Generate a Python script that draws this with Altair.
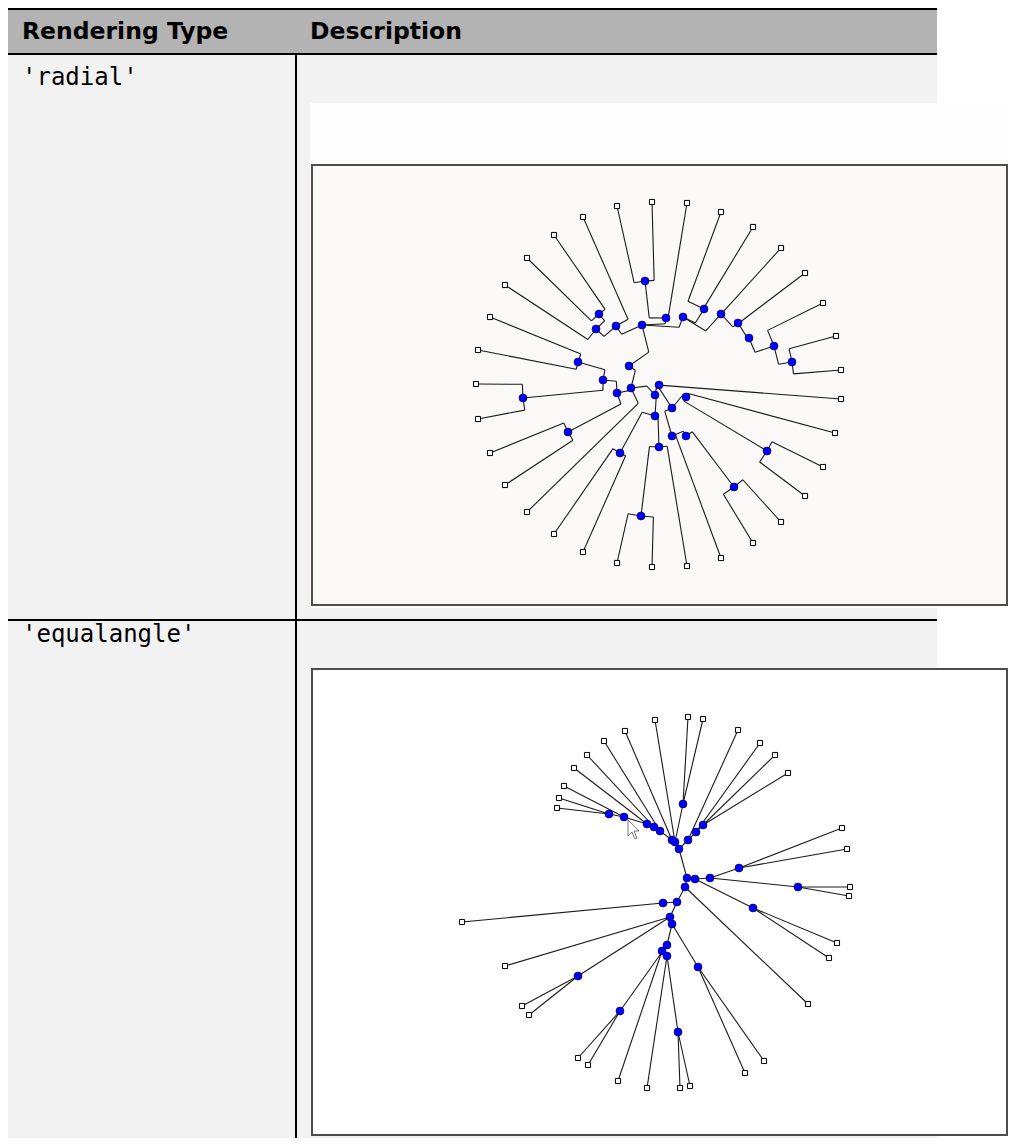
import math
import altair as alt
import pandas as pd

# ---------------- table text ----------------
HEADER_LABELS = ["Rendering Type", "Description"]
ROW_LABELS = ["'radial'", "'equalangle'"]

# ---------------- 'radial' tree (screen positions) ----------------
RAD_CENTER_X = 657
RAD_CENTER_Y = 385
RAD_LEAF_X = [652, 687, 721, 753, 781, 805, 823, 836, 841, 841, 835, 823, 805, 781, 753, 721, 687,
              652, 617, 583, 554, 527, 505, 490, 478, 476, 478, 490, 505, 527, 554, 583, 617]
RAD_LEAF_Y = [202, 203, 212, 227, 248, 273, 303, 336, 370, 399, 433, 467, 496, 522, 543, 558, 566,
              567, 563, 552, 534, 512, 485, 453, 419, 384, 350, 317, 285, 258, 235, 217, 206]
RAD_LEAF_PARENT = ["A", "I", "K", "K", "L", "M", "O", "P", "P", "X", "Z", "AE", "AE", "AF", "AF", "AB", "AD",
                   "T", "T", "S", "S", "V", "R", "R", "Q", "Q", "G", "G", "C", "B", "B", "D", "A"]
RAD_NODE_NAMES = ["A", "B", "C", "D", "E", "F", "G", "H", "I", "J", "K", "L", "M", "N", "O", "P",
                  "Q", "R", "S", "T", "U", "V", "W", "X", "Y", "Z", "AA", "AB", "AC", "AD", "AE", "AF"]
RAD_NODE_X = [645, 599, 596, 616, 642, 629, 578, 603, 666, 683, 704, 721, 738, 749, 774, 792,
              523, 568, 620, 641, 617, 631, 655, 659, 672, 686, 655, 672, 686, 659, 767, 734]
RAD_NODE_Y = [281, 314, 329, 326, 325, 366, 362, 380, 318, 317, 309, 314, 323, 338, 346, 362,
              398, 432, 453, 516, 393, 388, 395, 385, 408, 397, 416, 436, 436, 447, 451, 487]
RAD_NODE_PARENT = ["I", "C", "D", "E", "F", "V", "H", "U", "E", "E", "J", "J", "L", "M", "N", "O",
                   "H", "U", "AA", "AD", "V", "W", "X", "", "X", "Y", "W", "Y", "AB", "AA", "Z", "AC"]

# ---------------- 'equalangle' tree ----------------
EQ_LEAF_X = [557, 559, 564, 574, 587, 604, 625, 655, 688, 703, 738, 760, 775, 788, 842, 847, 850,
             849, 837, 829, 808, 764, 745, 690, 680, 647, 618, 588, 578, 529, 522, 505, 462]
EQ_LEAF_Y = [808, 798, 786, 768, 755, 741, 731, 720, 717, 719, 730, 743, 755, 773, 828, 849, 887,
             896, 943, 958, 1004, 1061, 1073, 1086, 1088, 1088, 1081, 1065, 1058, 1015, 1006, 966, 922]
EQ_LEAF_PARENT = ["b1", "b1", "b2", "b3", "b4", "b5", "b6", "b7", "b9", "b9", "b10", "b11", "b12", "b12",
                  "b16", "b16", "b17", "b17", "b21", "b21", "b18", "b27", "b27", "b28", "b28", "b26",
                  "b25", "b30", "b30", "b29", "b29", "b22", "b19"]
EQ_NODE_NAMES = ["b%d" % i for i in range(1, 31)]
EQ_NODE_X = [609, 624, 647, 654, 660, 672, 675, 679, 683, 688, 696, 703, 687, 695, 710, 739, 798,
             685, 663, 677, 753, 670, 672, 667, 662, 667, 698, 678, 578, 620]
EQ_NODE_Y = [814, 817, 824, 827, 831, 840, 842, 849, 804, 840, 832, 825, 878, 879, 878, 868, 887,
             887, 903, 902, 908, 917, 924, 945, 951, 956, 967, 1032, 976, 1011]
EQ_NODE_PARENT = ["b2", "b3", "b4", "b5", "b6", "b8", "b8", "b13", "b7", "b8", "b10", "b11", "",
                  "b13", "b14", "b15", "b15", "b13", "b20", "b18", "b14", "b20", "b22", "b23", "b24",
                  "b25", "b23", "b26", "b22", "b24"]

CURSOR_X = [628]
CURSOR_Y = [820]

# ---------------- build tables ----------------
def radial_edges():
    pos = {n: (x, y) for n, x, y in zip(RAD_NODE_NAMES, RAD_NODE_X, RAD_NODE_Y)}
    kids = list(zip(RAD_LEAF_X, RAD_LEAF_Y, RAD_LEAF_PARENT)) + \
        [(x, y, p) for x, y, p in zip(RAD_NODE_X, RAD_NODE_Y, RAD_NODE_PARENT) if p]
    rows = []
    for cx, cy, p in kids:
        px, py = pos[p]
        rp = math.hypot(px - RAD_CENTER_X, py - RAD_CENTER_Y)
        dx, dy = cx - RAD_CENTER_X, cy - RAD_CENTER_Y
        rc = math.hypot(dx, dy)
        ex, ey = RAD_CENTER_X + dx / rc * rp, RAD_CENTER_Y + dy / rc * rp
        rows.append({"x": cx, "y": cy, "x2": ex, "y2": ey})
        rows.append({"x": ex, "y": ey, "x2": px, "y2": py})
    return pd.DataFrame(rows)


def straight_edges():
    pos = {n: (x, y) for n, x, y in zip(EQ_NODE_NAMES, EQ_NODE_X, EQ_NODE_Y)}
    kids = list(zip(EQ_LEAF_X, EQ_LEAF_Y, EQ_LEAF_PARENT)) + \
        [(x, y, p) for x, y, p in zip(EQ_NODE_X, EQ_NODE_Y, EQ_NODE_PARENT) if p]
    rows = []
    for cx, cy, p in kids:
        px, py = pos[p]
        rows.append({"x": cx, "y": cy, "x2": px, "y2": py})
    return pd.DataFrame(rows)


W, H = 1001, 1130
X0, Y0 = 8, 8
xsc = alt.Scale(domain=[X0, X0 + W], range=[0, W], nice=False, zero=False)
ysc = alt.Scale(domain=[Y0, Y0 + H], range=[0, H], nice=False, zero=False)
one = pd.DataFrame({"k": [0]})


def rect(x1, y1, x2, y2, fill, stroke=None, sw=0):
    kw = {"fill": fill}
    if stroke:
        kw.update(stroke=stroke, strokeWidth=sw)
    else:
        kw.update(strokeWidth=0)
    return alt.Chart(one).mark_rect(**kw).encode(
        x=alt.value(x1 - X0), x2=alt.value(x2 - X0),
        y=alt.value(y1 - Y0), y2=alt.value(y2 - Y0))


def label(txt, x, y, font, size, weight="normal"):
    return alt.Chart(pd.DataFrame({"label": [txt]})).mark_text(
        align="left", baseline="alphabetic", font=font, fontSize=size,
        fontWeight=weight, color="#000000").encode(
        x=alt.value(x - X0), y=alt.value(y - Y0), text="label:N")


layers = [
    # table cells
    rect(0, 8, 937, 55, "#b3b3b3"),
    rect(0, 55, 295, 1148, "#f2f2f2"),
    rect(297, 55, 937, 1148, "#f2f2f2"),
    rect(310, 103, 1017, 608, "#fdfdfd"),
    # table rules
    rect(0, 8, 937, 10, "#000000"),
    rect(0, 53, 937, 55, "#000000"),
    rect(0, 619, 937, 621, "#000000"),
    rect(295, 55, 297, 1148, "#000000"),
    # screenshot frames
    rect(312, 165, 1007, 605, "#faf9f7", "#4d4d4d", 2),
    rect(312, 669, 1007, 1135, "#ffffff", "#4d4d4d", 2),
    # texts
    label(HEADER_LABELS[0], 22, 39, "DejaVu Sans", 23.5, "bold"),
    label(HEADER_LABELS[1], 310, 39, "DejaVu Sans", 23.5, "bold"),
    label(ROW_LABELS[0], 22, 85, "DejaVu Sans Mono", 24),
    label(ROW_LABELS[1], 22, 642, "DejaVu Sans Mono", 24),
]

enc_xy = dict(x=alt.X("x:Q", scale=xsc, axis=None), y=alt.Y("y:Q", scale=ysc, axis=None))

for edges in (radial_edges(), straight_edges()):
    layers.append(alt.Chart(edges).mark_rule(color="#1a1a1a", strokeWidth=1.1).encode(
        x2="x2:Q", y2="y2:Q", **enc_xy))

leaves = pd.DataFrame({"x": RAD_LEAF_X + EQ_LEAF_X, "y": RAD_LEAF_Y + EQ_LEAF_Y})
nodes = pd.DataFrame({"x": RAD_NODE_X + EQ_NODE_X, "y": RAD_NODE_Y + EQ_NODE_Y})

layers.append(alt.Chart(leaves).mark_point(
    shape="square", filled=True, fill="#ffffff", stroke="#000000", strokeWidth=1, size=26, opacity=1
).encode(**enc_xy))
layers.append(alt.Chart(nodes).mark_point(
    shape="circle", filled=True, fill="#0000ff", stroke="#000040", strokeWidth=0.6, size=64, opacity=1
).encode(**enc_xy))

cursor = pd.DataFrame({"x": CURSOR_X, "y": CURSOR_Y})
layers.append(alt.Chart(cursor).mark_point(
    shape="M0,0L0,1.6L0.4,1.2L0.7,1.9L0.9,1.8L0.6,1.1L1.1,1.1Z",
    filled=True, fill="#ffffff", stroke="#555555", strokeWidth=0.8, size=400, opacity=1
).encode(**enc_xy))

chart = alt.layer(*layers).properties(
    width=W, height=H, padding=0, autosize="none", background="#ffffff"
).configure_view(stroke=None)

chart.save("out.html", embed_options={"renderer": "svg", "actions": False})
